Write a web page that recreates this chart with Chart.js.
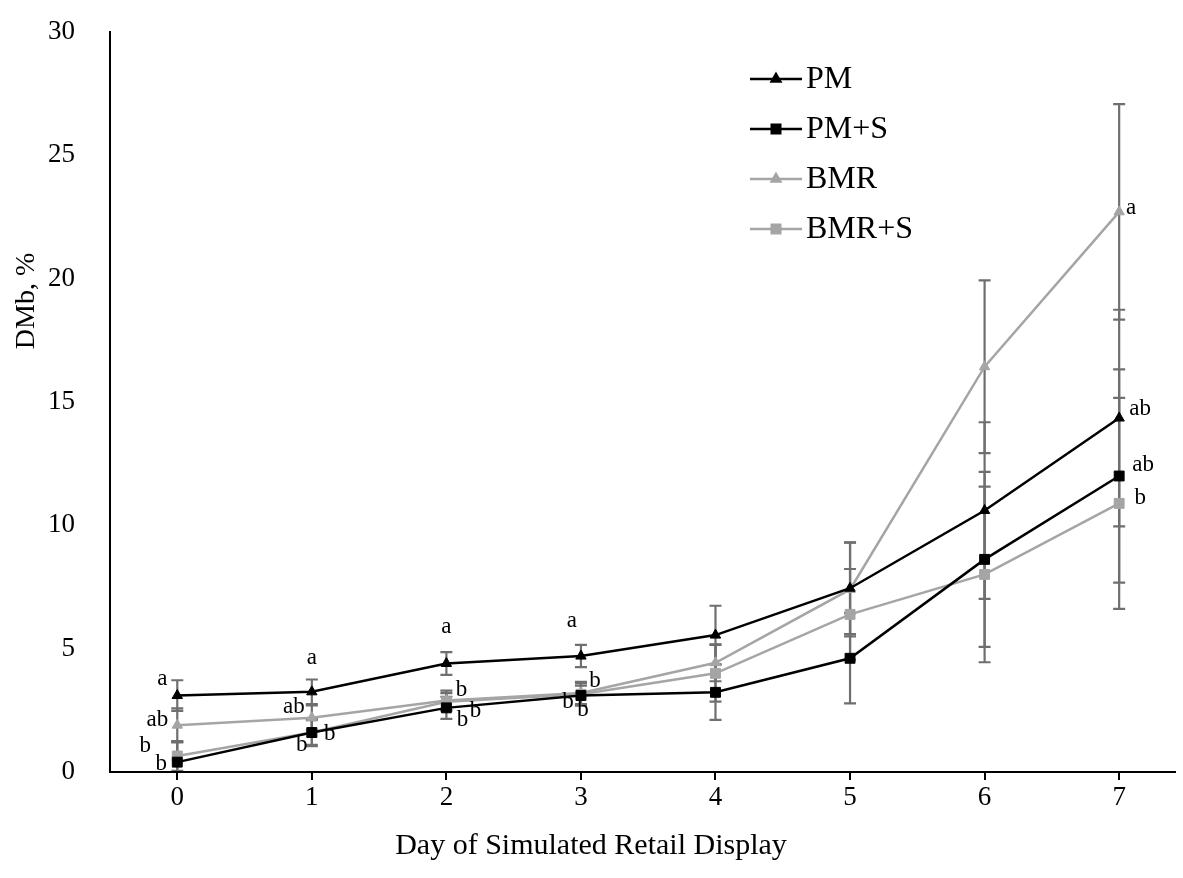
<!DOCTYPE html>
<html>
<head>
<meta charset="utf-8">
<script src="https://cdn.jsdelivr.net/npm/chart.js@4"></script>
<style>
  html, body { margin: 0; padding: 0; background: #fff; }
  #wrap { width: 1183px; height: 878px; }
</style>
</head>
<body>
<div id="wrap"><canvas id="chart" width="1183" height="878"></canvas></div>
<script>
// values
var days = [0, 1, 2, 3, 4, 5, 6, 7];
var yTicks = [0, 5, 10, 15, 20, 25, 30];

var pm      = [3.1, 3.25, 4.4, 4.7, 5.55, 7.45, 10.6, 14.35];
var pmSd    = [0.62, 0.5, 0.46, 0.45, 1.19, 1.86, 3.58, 4.39];
var pmS     = [0.4, 1.6, 2.6, 3.1, 3.23, 4.61, 8.62, 12.0];
var pmSSd   = [0.8, 0.5, 0.45, 0.4, 1.12, 1.83, 3.55, 4.32];
var bmr     = [1.9, 2.2, 2.9, 3.2, 4.43, 7.4, 16.43, 22.71];
var bmrSd   = [0.68, 0.5, 0.4, 0.45, 0.75, 1.9, 3.5, 4.37];
var bmrS    = [0.65, 1.6, 2.85, 3.15, 4.0, 6.39, 8.01, 10.89];
var bmrSSd  = [0.6, 0.55, 0.35, 0.45, 1.15, 1.84, 3.56, 4.28];

// significance letters per point
var pmLetters   = ['a', 'a', 'a', 'a', '', '', '', 'ab'];
var pmSLetters  = ['b', 'b', 'b', 'b', '', '', '', 'ab'];
var bmrLetters  = ['ab', 'ab', 'b', 'b', '', '', '', 'a'];
var bmrSLetters = ['b', 'b', 'b', 'b', '', '', '', 'b'];

var BLACK = '#000000';
var GREY = '#a5a5a5';
var ERR = '#6f6f6f';
var FONT = '"Liberation Serif", "Times New Roman", serif';

// label offsets in px from the point, order PM, PM+S, BMR, BMR+S (placement only)
var letterOffsets = {
    0: [[-15, -17], [-16, 2], [-20, -5], [-32, -10]],
    1: [[0, -34], [-10, 12], [-18, -11], [18, 1]],
    2: [[0, -37], [16, 12], [15, -11], [29, 9]],
    3: [[-9, -35], [2, 14], [14, -12], [-13, 8]],
    7: [[21, -9], [24, -11], [12, -4], [21, -5]]
};

function pts(vals) {
    return days.map(function (d, i) { return {x: d, y: vals[i]}; });
}

var series = [
    {label: 'PM', data: pm, sd: pmSd, letters: pmLetters, color: BLACK, style: 'triangle'},
    {label: 'PM+S', data: pmS, sd: pmSSd, letters: pmSLetters, color: BLACK, style: 'rect'},
    {label: 'BMR', data: bmr, sd: bmrSd, letters: bmrLetters, color: GREY, style: 'triangle'},
    {label: 'BMR+S', data: bmrS, sd: bmrSSd, letters: bmrSLetters, color: GREY, style: 'rect'}
];

var errorBars = {
    id: 'errorBars',
    beforeDatasetsDraw: function (chart) {
        var ctx = chart.ctx, x = chart.scales.x, y = chart.scales.y, a = chart.chartArea;
        ctx.save();
        ctx.beginPath();
        ctx.rect(a.left, a.top - 2, a.right - a.left, a.bottom - a.top + 1);
        ctx.clip();
        ctx.strokeStyle = ERR;
        ctx.lineWidth = 2.2;
        series.forEach(function (s) {
            days.forEach(function (d, i) {
                var px = x.getPixelForValue(d);
                var hi = y.getPixelForValue(s.data[i] + s.sd[i]);
                var lo = y.getPixelForValue(s.data[i] - s.sd[i]);
                ctx.beginPath();
                ctx.moveTo(px, hi); ctx.lineTo(px, lo);
                ctx.moveTo(px - 6, hi); ctx.lineTo(px + 6, hi);
                ctx.moveTo(px - 6, lo); ctx.lineTo(px + 6, lo);
                ctx.stroke();
            });
        });
        ctx.restore();
    }
};

var extras = {
    id: 'extras',
    afterDatasetsDraw: function (chart) {
        var ctx = chart.ctx, x = chart.scales.x, y = chart.scales.y;
        ctx.save();
        // letters
        ctx.fillStyle = '#000';
        ctx.font = '23px ' + FONT;
        ctx.textAlign = 'center';
        ctx.textBaseline = 'middle';
        Object.keys(letterOffsets).forEach(function (k) {
            var i = days.indexOf(+k);
            letterOffsets[k].forEach(function (off, si) {
                var s = series[si];
                if (!s.letters[i]) return;
                ctx.fillText(s.letters[i], x.getPixelForValue(days[i]) + off[0], y.getPixelForValue(s.data[i]) + off[1]);
            });
        });
        // legend
        ctx.font = '32px ' + FONT;
        ctx.textAlign = 'left';
        series.forEach(function (s, si) {
            var ly = 79 + si * 50;
            ctx.strokeStyle = s.color;
            ctx.lineWidth = 2.5;
            ctx.beginPath(); ctx.moveTo(750, ly); ctx.lineTo(802, ly); ctx.stroke();
            ctx.fillStyle = s.color;
            ctx.strokeStyle = s.color;
            Chart.helpers.drawPoint(ctx, {pointStyle: s.style, radius: s.style === 'rect' ? 6 : 5, borderWidth: 1}, 776, ly);
            ctx.fillStyle = '#000';
            ctx.fillText(s.label, 806, ly + 1);
        });
        // axis titles
        ctx.font = '30px ' + FONT;
        ctx.textAlign = 'center';
        ctx.fillText('Day of Simulated Retail Display', 591, 846);
        ctx.font = '28px ' + FONT;
        ctx.translate(27, 301);
        ctx.rotate(-Math.PI / 2);
        ctx.fillText('DMb, %', 0, 0);
        ctx.restore();
    }
};

new Chart(document.getElementById('chart'), {
    type: 'line',
    data: {
        datasets: series.map(function (s) {
            return {
                label: s.label,
                data: pts(s.data),
                borderColor: s.color,
                backgroundColor: s.color,
                borderWidth: 2.5,
                pointStyle: s.style,
                pointRadius: s.style === 'rect' ? 7 : 6,
                pointBorderWidth: 1,
                tension: 0
            };
        })
    },
    options: {
        responsive: false,
        animation: false,
        events: [],
        layout: {padding: {top: 32, right: 6, left: 0, bottom: 0}},
        plugins: {legend: {display: false}, tooltip: {enabled: false}},
        scales: {
            x: {
                type: 'linear',
                min: -0.5,
                max: 7.415,
                afterBuildTicks: function (s) { s.ticks = days.map(function (d) { return {value: d}; }); },
                afterFit: function (s) { s.height = 106; },
                grid: {display: true, drawOnChartArea: false, drawTicks: true, tickLength: 8, color: '#000', lineWidth: 2},
                border: {display: true, color: '#000', width: 2},
                ticks: {color: '#000', font: {family: FONT, size: 27}, padding: 2, maxRotation: 0}
            },
            y: {
                min: 0,
                max: 30,
                afterBuildTicks: function (s) { s.ticks = yTicks.map(function (v) { return {value: v}; }); },
                afterFit: function (s) { s.width = 110; s.paddingTop = 0; s.paddingBottom = 0; },
                grid: {display: false, drawTicks: false},
                border: {display: true, color: '#000', width: 2},
                ticks: {color: '#000', font: {family: FONT, size: 27}, padding: 35}
            }
        }
    },
    plugins: [errorBars, extras]
});
</script>
</body>
</html>
